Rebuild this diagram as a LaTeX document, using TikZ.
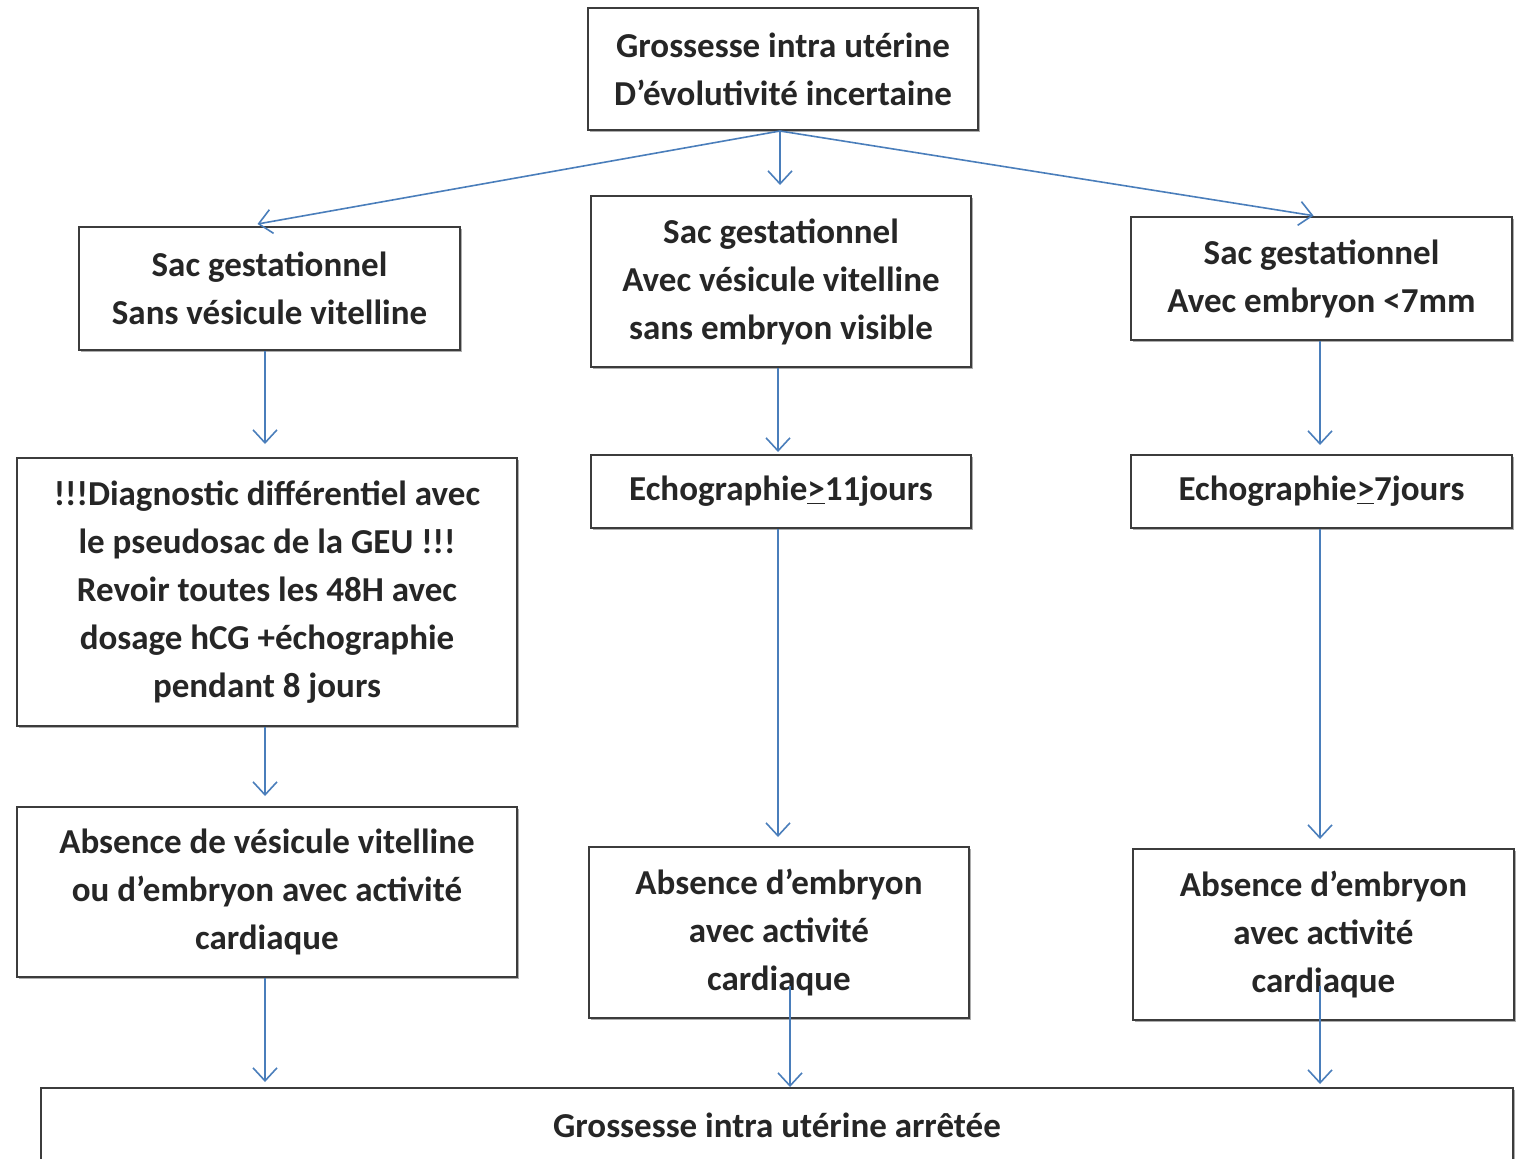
\documentclass[tikz,border=0pt]{standalone}
\usepackage{fontspec}
\setmainfont{Carlito}
\usetikzlibrary{arrows.meta,shadows,calc}
\definecolor{arrblue}{HTML}{4A7EBB}
\definecolor{boxline}{HTML}{3C3C3C}
\definecolor{txt}{HTML}{262626}
\tikzset{
  box/.style={draw=boxline, line width=1pt, fill=white, inner sep=0pt, align=center,
    text=txt, font=\fontsize{17.5}{24}\selectfont\bfseries,
    drop shadow={shadow xshift=0.9pt, shadow yshift=-0.9pt, fill=black!40, opacity=0.8}},
  arr/.style={draw=arrblue, line width=0.8pt, -{Straight Barb[length=6.5pt,width=12pt,line width=0.8pt]}},
}
\begin{document}
\begin{tikzpicture}[x=0.5pt,y=-0.5pt]
\useasboundingbox (0,0) rectangle (1518,1158);
\node[box, minimum width=195pt, minimum height=61pt] (t) at (783,69) {Grossesse intra utérine\\D’évolutivité incertaine};
\node[box, minimum width=190.5pt, minimum height=61.5pt] (l1) at (269.5,288.5) {Sac gestationnel\\Sans vésicule vitelline};
\node[box, minimum width=190pt, minimum height=85.5pt] (m1) at (781,281.5) {Sac gestationnel\\Avec vésicule vitelline\\sans embryon visible};
\node[box, minimum width=190.5pt, minimum height=61.5pt] (r1) at (1321.5,278.5) {Sac gestationnel\\Avec embryon <7mm};
\node[box, minimum width=250pt, minimum height=134pt] (l2) at (267,592) {!!!Diagnostic différentiel avec\\le pseudosac de la GEU !!!\\Revoir toutes les 48H avec\\dosage hCG +échographie\\pendant 8 jours};
\node[box, minimum width=190pt, minimum height=36.5pt] (m2) at (781,491.5) {Echographie\underline{>}11jours};
\node[box, minimum width=190.5pt, minimum height=36.5pt] (r2) at (1321.5,491.5) {Echographie\underline{>}7jours};
\node[box, minimum width=250pt, minimum height=85pt] (l3) at (267,892) {Absence de vésicule vitelline\\ou d’embryon avec activité\\cardiaque};
\node[box, minimum width=190pt, minimum height=85.5pt] (m3) at (779,932.5) {Absence d’embryon\\avec activité\\cardiaque};
\node[box, minimum width=190.5pt, minimum height=85.5pt] (r3) at (1323.5,934.5) {Absence d’embryon\\avec activité\\cardiaque};
\node[box, minimum width=736pt, minimum height=37pt] (b) at (777,1125) {Grossesse intra utérine arrêtée};
% connectors
\draw[arr] ([xshift=-1.5pt]t.south) -- ([xshift=-6pt,yshift=1pt]l1.north);
\draw[arr, shorten >=5pt] ([xshift=-1.5pt]t.south) -- ([xshift=-1.5pt]t.south |- m1.north);
\draw[arr, shorten >=1pt] ([xshift=-1.5pt]t.south) -- ([xshift=-3pt]r1.north);
\draw[arr, shorten >=6.5pt] ([xshift=-2.25pt]l1.south) -- ([xshift=-2.25pt]l1.south |- l2.north);
\draw[arr, shorten >=1pt] ([xshift=-1.5pt]m1.south) -- ([xshift=-1.5pt]m1.south |- m2.north);
\draw[arr, shorten >=4.5pt] ([xshift=-0.75pt]r1.south) -- ([xshift=-0.75pt]r1.south |- r2.north);
\draw[arr, shorten >=5pt] ([xshift=-1pt]l2.south) -- ([xshift=-1pt]l2.south |- l3.north);
\draw[arr, shorten >=4.5pt] ([xshift=-1.5pt]m2.south) -- ([xshift=-1.5pt]m2.south |- m3.north);
\draw[arr, shorten >=4.5pt] ([xshift=-0.75pt]r2.south) -- ([xshift=-0.75pt]r2.south |- r3.north);
\draw[arr, shorten >=2.5pt] ([xshift=-1pt]l3.south) -- ([xshift=-1pt]l3.south |- b.north);
\draw[arr] ([xshift=5.5pt,yshift=16.5pt]m3.south) -- ([xshift=5.5pt]m3.south |- b.north);
\draw[arr, shorten >=1.5pt] ([xshift=-1.75pt,yshift=17.5pt]r3.south) -- ([xshift=-1.75pt]r3.south |- b.north);
\end{tikzpicture}
\end{document}
